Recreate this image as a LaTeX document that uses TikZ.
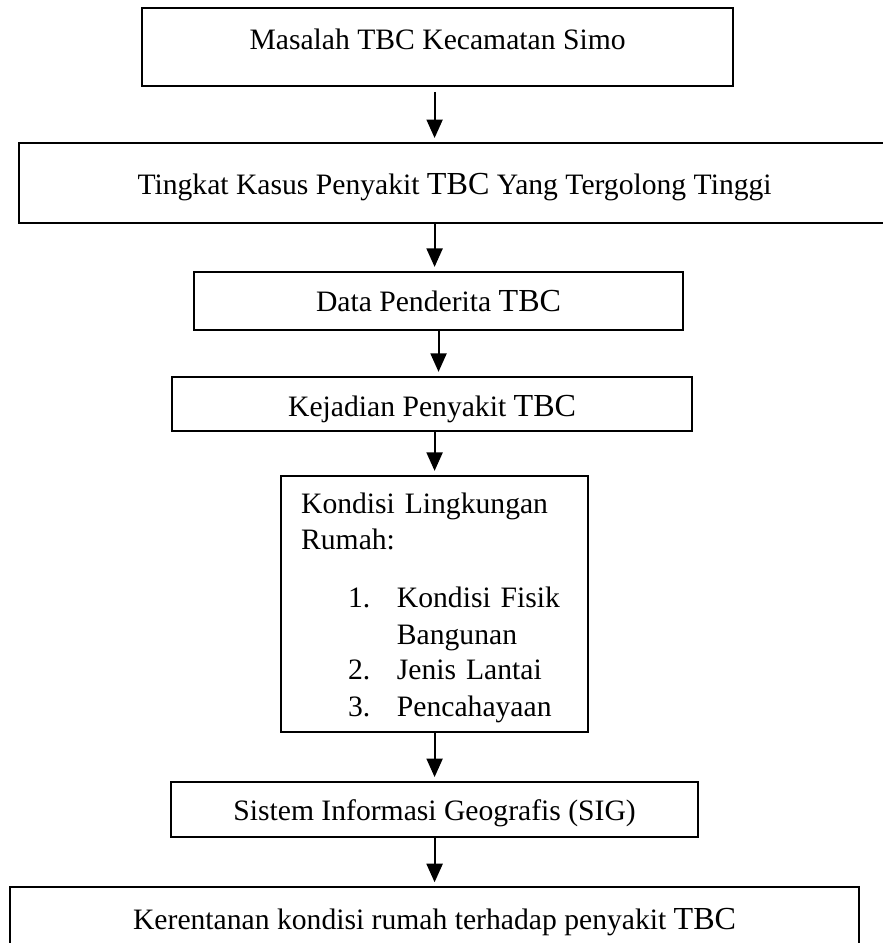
\documentclass[tikz,border=0pt]{standalone}
\usepackage{fontspec}
\setmainfont{Liberation Serif}
\usetikzlibrary{arrows.meta, positioning}

\newcommand{\tbc}{{\fontsize{13}{14.8}\selectfont TBC}}
\newcommand{\listentry}[2]{\hspace*{19pt}\makebox[19.8pt][l]{#1}#2}

\begin{document}
\begin{tikzpicture}[
        >= {Triangle[width = 6.5pt, length = 7.5pt]},
        every node/.style = {font = \fontsize{12}{14.8}\selectfont},
        box/.style = {draw, line width = 0.8pt, rectangle, inner sep = 0pt, outer sep = 0pt},
        flow/.style = {->, line width = 0.8pt, shorten >= 2pt}
    ]
    \useasboundingbox (0,0) rectangle (357.2pt,-381.9pt);

    \node[box, minimum width = 239.4pt, text height = 17pt, text depth = 14.6pt] (b0) at (177.2pt,-19pt) {Masalah TBC Kecamatan Simo};
    \node[box, minimum width = 352.8pt, text height = 20.7pt, text depth = 11.7pt] (b1) [below = 23.1pt of b0, xshift = 6.9pt] {Tingkat Kasus Penyakit \tbc{} Yang Tergolong Tinggi};
    \node[box, minimum width = 198pt, text height = 16.2pt, text depth = 7.3pt] (b2) [below = 19.8pt of b1, xshift = -6.5pt] {Data Penderita \tbc};
    \node[box, minimum width = 210.6pt, text height = 16.2pt, text depth = 5.7pt] (b3) [below = 19pt of b2, xshift = -2.6pt] {Kejadian Penyakit \tbc};
    \node[box, line width = 0.6pt, minimum width = 124.3pt, minimum height = 103.7pt, text width = 108.1pt, align = left] (b4) [below = 18.2pt of b3, xshift = 1pt] {
        \rule{0pt}{11.4pt}Kondisi Lingkungan\\
        Rumah:\\[8.7pt]
        \listentry{1.}{Kondisi Fisik}\\
        \listentry{}{Bangunan}\\[-0.6pt]
        \listentry{2.}{Jenis Lantai}\\
        \listentry{3.}{Pencahayaan}
    };
    \node[box, minimum width = 213.4pt, text height = 15.4pt, text depth = 6.9pt] (b5) [below = 20.3pt of b4] {Sistem Informasi Geografis (SIG)};
    \node[box, minimum width = 343.8pt, text height = 17pt, text depth = 8.1pt] (b6) [below = 20.3pt of b5] {Kerentanan kondisi rumah terhadap penyakit \tbc};

    \path[flow]
        (b0.south -| b4.north) edge [shorten <= 2.4pt] (b1.north -| b4.north)
        (b1.south -| b4.north) edge (b2.north -| b4.north)
        (b2.south) edge (b3.north -| b2.south)
        (b3.south -| b4.north) edge (b4.north)
        (b4.south) edge (b5.north -| b4.south)
        (b5.south -| b4.south) edge (b6.north -| b4.south);
\end{tikzpicture}
\end{document}
